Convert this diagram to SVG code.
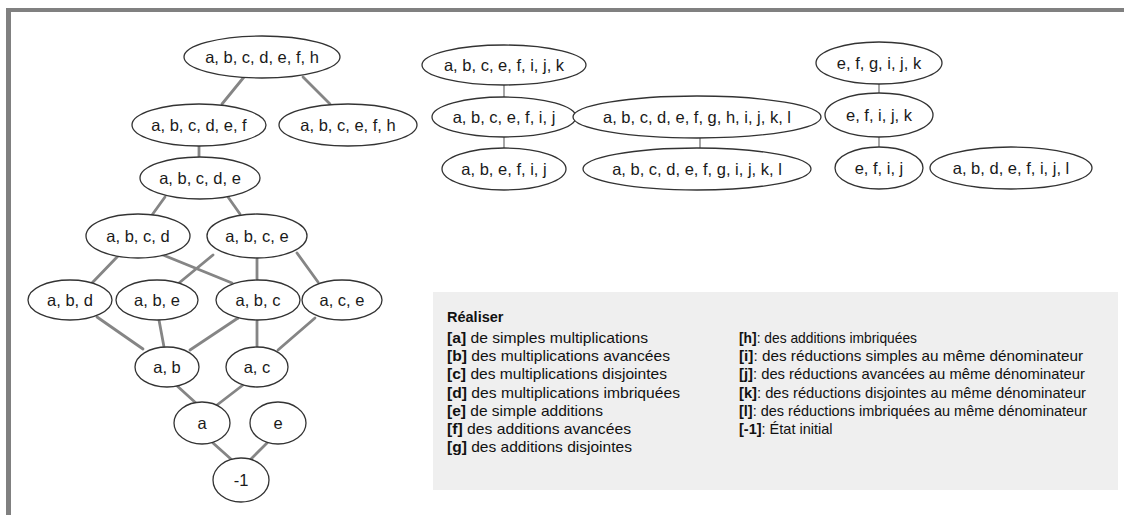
<svg xmlns="http://www.w3.org/2000/svg" width="1124" height="515" viewBox="0 0 1124 515">
<style>
.n ellipse{fill:#fff;stroke:#333;stroke-width:1.3}
.n text{font-family:"Liberation Sans",Arial,sans-serif;font-size:16.5px;fill:#1a1a1a;text-anchor:middle}
.e line{stroke:#858585;stroke-width:2.8;stroke-linecap:round}
.e line.t{stroke:#777;stroke-width:1.3}
.lg{font-family:"Liberation Sans",Arial,sans-serif;font-size:14.5px;fill:#111}
.b{font-weight:bold}
</style>
<rect x="0" y="0" width="1124" height="515" fill="#fff"/>
<rect x="6" y="8" width="1118" height="4" fill="#808080"/>
<rect x="6" y="8" width="5" height="507" fill="#808080"/>
<g id="connectors" class="e">
<line x1="244" y1="77" x2="222" y2="104"/>
<line x1="303" y1="77" x2="330" y2="104"/>
<line x1="199" y1="146" x2="199" y2="157"/>
<line x1="165" y1="197" x2="152" y2="215"/>
<line x1="228" y1="197" x2="240" y2="214"/>
<line x1="118" y1="256" x2="92" y2="283"/>
<line x1="163" y1="255" x2="232" y2="283"/>
<line x1="213" y1="255" x2="179" y2="283"/>
<line x1="257" y1="258" x2="257" y2="280"/>
<line x1="297" y1="253" x2="318" y2="282"/>
<line x1="97" y1="317" x2="143" y2="349"/>
<line x1="159" y1="320" x2="164" y2="347"/>
<line x1="238" y1="318" x2="190" y2="350"/>
<line x1="257" y1="320" x2="257" y2="347"/>
<line x1="315" y1="318" x2="278" y2="350"/>
<line x1="175" y1="384" x2="197" y2="404"/>
<line x1="243" y1="385" x2="217" y2="405"/>
<line x1="213" y1="443" x2="232" y2="460"/>
<line x1="267" y1="443" x2="250" y2="460"/>
<line class="t" x1="504" y1="85" x2="504" y2="97"/>
<line class="t" x1="504" y1="137" x2="504" y2="148"/>
<line class="t" x1="700" y1="138" x2="700" y2="148"/>
<line class="t" x1="879" y1="84" x2="879" y2="93"/>
<line class="t" x1="879" y1="137" x2="879" y2="147"/>
</g>
<g id="n1" class="n"><ellipse cx="262" cy="57" rx="78" ry="21"/><text x="262" y="63">a, b, c, d, e, f, h</text></g>
<g id="n2" class="n"><ellipse cx="199" cy="125" rx="67" ry="21"/><text x="199" y="131">a, b, c, d, e, f</text></g>
<g id="n3" class="n"><ellipse cx="348" cy="125" rx="69" ry="21"/><text x="348" y="131">a, b, c, e, f, h</text></g>
<g id="n4" class="n"><ellipse cx="200" cy="178" rx="60" ry="21"/><text x="200" y="184">a, b, c, d, e</text></g>
<g id="n5" class="n"><ellipse cx="138" cy="236" rx="52" ry="22"/><text x="138" y="242">a, b, c, d</text></g>
<g id="n6" class="n"><ellipse cx="257" cy="236" rx="50" ry="22"/><text x="257" y="242">a, b, c, e</text></g>
<g id="n7" class="n"><ellipse cx="70" cy="300" rx="42" ry="20"/><text x="70" y="306">a, b, d</text></g>
<g id="n8" class="n"><ellipse cx="157" cy="300" rx="41" ry="20"/><text x="157" y="306">a, b, e</text></g>
<g id="n9" class="n"><ellipse cx="258" cy="300" rx="42" ry="20"/><text x="258" y="306">a, b, c</text></g>
<g id="n10" class="n"><ellipse cx="342" cy="300" rx="40" ry="20"/><text x="342" y="306">a, c, e</text></g>
<g id="n11" class="n"><ellipse cx="167" cy="367" rx="32" ry="20"/><text x="167" y="373">a, b</text></g>
<g id="n12" class="n"><ellipse cx="257" cy="367" rx="31" ry="20"/><text x="257" y="373">a, c</text></g>
<g id="n13" class="n"><ellipse cx="202" cy="423" rx="28" ry="21"/><text x="202" y="429">a</text></g>
<g id="n14" class="n"><ellipse cx="278" cy="423" rx="28" ry="21"/><text x="278" y="429">e</text></g>
<g id="n15" class="n"><ellipse cx="241" cy="480" rx="28" ry="22"/><text x="241" y="486">-1</text></g>
<g id="r1" class="n"><ellipse cx="504" cy="65" rx="82" ry="20"/><text x="504" y="71">a, b, c, e, f, i, j, k</text></g>
<g id="r2" class="n"><ellipse cx="504" cy="117" rx="72" ry="20"/><text x="504" y="123">a, b, c, e, f, i, j</text></g>
<g id="r3" class="n"><ellipse cx="504" cy="169" rx="62" ry="21"/><text x="504" y="175">a, b, e, f, i, j</text></g>
<g id="r4" class="n"><ellipse cx="697" cy="117" rx="124" ry="21"/><text x="697" y="123">a, b, c, d, e, f, g, h, i, j, k, l</text></g>
<g id="r5" class="n"><ellipse cx="697" cy="169" rx="114" ry="21"/><text x="697" y="175">a, b, c, d, e, f, g, i, j, k, l</text></g>
<g id="r6" class="n"><ellipse cx="879" cy="63" rx="63" ry="21"/><text x="879" y="69">e, f, g, i, j, k</text></g>
<g id="r7" class="n"><ellipse cx="879" cy="115" rx="54" ry="22"/><text x="879" y="121">e, f, i, j, k</text></g>
<g id="r8" class="n"><ellipse cx="879" cy="168" rx="44" ry="21"/><text x="879" y="174">e, f, i, j</text></g>
<g id="r9" class="n"><ellipse cx="1011" cy="168" rx="81" ry="21"/><text x="1011" y="174">a, b, d, e, f, i, j, l</text></g>
<g id="legend">
<rect x="433" y="292" width="685" height="198" fill="#efefef"/>
<text class="lg b" x="447" y="322">Réaliser</text>
<text class="lg" x="447" y="343" textLength="201" lengthAdjust="spacingAndGlyphs"><tspan class="b">[a]</tspan> de simples multiplications</text>
<text class="lg" x="447" y="361.2" textLength="223" lengthAdjust="spacingAndGlyphs"><tspan class="b">[b]</tspan> des multiplications avancées</text>
<text class="lg" x="447" y="379.4" textLength="220" lengthAdjust="spacingAndGlyphs"><tspan class="b">[c]</tspan> des multiplications disjointes</text>
<text class="lg" x="447" y="397.6" textLength="233" lengthAdjust="spacingAndGlyphs"><tspan class="b">[d]</tspan> des multiplications imbriquées</text>
<text class="lg" x="447" y="415.8" textLength="156" lengthAdjust="spacingAndGlyphs"><tspan class="b">[e]</tspan> de simple additions</text>
<text class="lg" x="447" y="434" textLength="184" lengthAdjust="spacingAndGlyphs"><tspan class="b">[f]</tspan> des additions avancées</text>
<text class="lg" x="447" y="452.2" textLength="185" lengthAdjust="spacingAndGlyphs"><tspan class="b">[g]</tspan> des additions disjointes</text>
<text class="lg" x="739" y="343" textLength="178" lengthAdjust="spacingAndGlyphs"><tspan class="b">[h]</tspan>: des additions imbriquées</text>
<text class="lg" x="739" y="361.2" textLength="344" lengthAdjust="spacingAndGlyphs"><tspan class="b">[i]</tspan>: des réductions simples au même dénominateur</text>
<text class="lg" x="739" y="379.4" textLength="346" lengthAdjust="spacingAndGlyphs"><tspan class="b">[j]</tspan>: des réductions avancées au même dénominateur</text>
<text class="lg" x="739" y="397.6" textLength="347" lengthAdjust="spacingAndGlyphs"><tspan class="b">[k]</tspan>: des réductions disjointes au même dénominateur</text>
<text class="lg" x="739" y="415.8" textLength="348" lengthAdjust="spacingAndGlyphs"><tspan class="b">[l]</tspan>: des réductions imbriquées au même dénominateur</text>
<text class="lg" x="739" y="434"><tspan class="b">[-1]</tspan>: État initial</text>
</g>
</svg>
